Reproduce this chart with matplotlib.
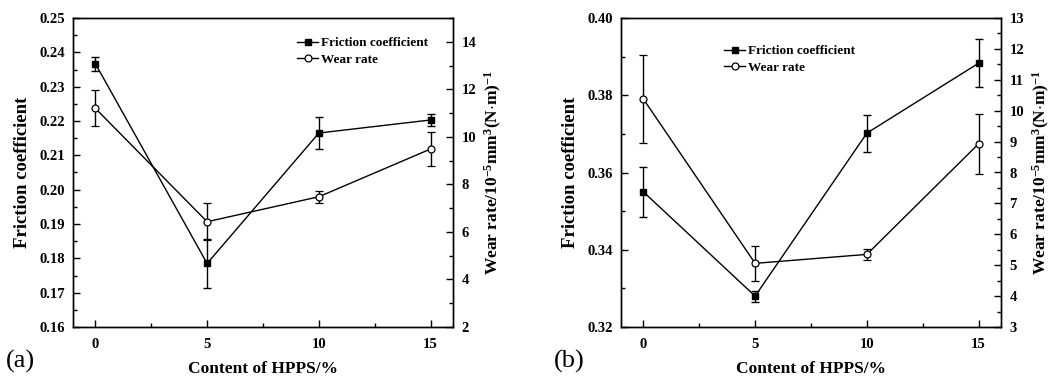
import matplotlib
matplotlib.use("Agg")
import matplotlib.pyplot as plt
from matplotlib.ticker import MultipleLocator, FormatStrFormatter

plt.rcParams["font.family"] = "Liberation Serif"
plt.rcParams["mathtext.fontset"] = "custom"
plt.rcParams["mathtext.rm"] = "Liberation Serif:bold"
plt.rcParams["mathtext.bf"] = "Liberation Serif:bold"
plt.rcParams["mathtext.it"] = "Liberation Serif:bold"

# =========================
# DATA
# =========================
content = [0, 5, 10, 15]

# panel (a)
fric_a = [0.2367, 0.1785, 0.2165, 0.2203]
fric_a_err = [0.0020, 0.0072, 0.0046, 0.0017]
wear_a = [11.2, 6.43, 7.48, 9.49]
wear_a_err = [0.75, 0.78, 0.25, 0.72]

# panel (b)
fric_b = [0.3550, 0.3280, 0.3702, 0.3883]
fric_b_err = [0.0064, 0.0014, 0.0048, 0.0062]
wear_b = [10.38, 5.06, 5.35, 8.93]
wear_b_err = [1.43, 0.56, 0.18, 0.97]

W, H = 1055, 377
fig = plt.figure(figsize=(W / 100, H / 100), dpi=100)

wear_label = r"Wear rate/10$^{-5}$mm$^{3}$(N$\cdot$m)$^{-1}$"


def panel(left_px, fric, fric_err, wear, wear_err, fylim, fmaj, fmin,
          wylim, wmaj, wmin, leg_xy, tag):
    ax = fig.add_axes([left_px / W, (H - 327) / H, 380 / W, 309 / H])
    ax2 = ax.twinx()

    c1 = ax.errorbar(content, fric, yerr=fric_err, color="black", lw=1.0,
                     marker="s", ms=4.5, mfc="black", mec="black",
                     capsize=3, elinewidth=1, capthick=1)
    c2 = ax2.errorbar(content, wear, yerr=wear_err, color="black", lw=1.0,
                      marker="o", ms=5, mfc="white", mec="black", mew=0.9,
                      capsize=3, elinewidth=1, capthick=1)

    ax.set_xlim(-1, 16)
    ax.set_ylim(*fylim)
    ax2.set_ylim(*wylim)
    ax.set_xticks(content)
    ax.xaxis.set_minor_locator(MultipleLocator(2.5))
    ax.yaxis.set_major_locator(MultipleLocator(fmaj))
    ax.yaxis.set_minor_locator(MultipleLocator(fmin))
    ax2.yaxis.set_major_locator(MultipleLocator(wmaj))
    ax2.yaxis.set_minor_locator(MultipleLocator(wmin))
    ax.yaxis.set_major_formatter(FormatStrFormatter("%.2f"))

    for a in (ax, ax2):
        a.tick_params(which="both", direction="in", top=False, labelsize=10.5)
        a.tick_params(which="major", length=5, width=1)
        a.tick_params(which="minor", length=3, width=1)
        for lab in a.get_xticklabels() + a.get_yticklabels():
            lab.set_fontweight("bold")
        for s in a.spines.values():
            s.set_linewidth(1)
    ax.tick_params(axis="x", pad=8)
    ax.tick_params(axis="y", pad=6)
    ax2.tick_params(axis="y", pad=6)

    ax.set_xlabel("Content of HPPS/%", fontsize=12.5, fontweight="bold", labelpad=7)
    ax.set_ylabel("Friction coefficient", fontsize=13.5, fontweight="bold", labelpad=6)
    ax2.set_ylabel(wear_label, fontsize=12.5, fontweight="bold", labelpad=5)

    ax.legend([c1[0], c2[0]], ["Friction coefficient", "Wear rate"], loc="upper left",
              bbox_to_anchor=((leg_xy[0] - left_px) / 380, 1 - (leg_xy[1] - 18) / 309),
              frameon=False, prop={"weight": "bold", "size": 9.5},
              handlelength=1.6, handletextpad=0.2, labelspacing=0.35,
              borderaxespad=0, borderpad=0)

    fig.text((left_px - 67) / W, 1 - 373 / H, tag, fontsize=19, ha="left", va="bottom")


panel(73, fric_a, fric_a_err, wear_a, wear_a_err, (0.16, 0.25), 0.01, 0.005,
      (2, 15), 2, 1, (297, 37), "(a)")
panel(621, fric_b, fric_b_err, wear_b, wear_b_err, (0.32, 0.40), 0.02, 0.01,
      (3, 13), 1, 0.5, (724, 45), "(b)")

fig.savefig("out.png", dpi=100)
